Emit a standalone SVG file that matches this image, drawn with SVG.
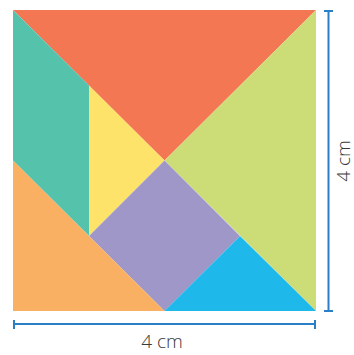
<svg xmlns="http://www.w3.org/2000/svg" width="354" height="355" viewBox="0 0 354 355">
<style>
.dim{stroke:#2b7fc6;stroke-width:2;fill:none}
.lbl{font-family:"Open Sans","Liberation Sans",sans-serif;font-weight:300;font-size:19px;fill:#3a3a3a}
</style>
<rect width="354" height="355" fill="#fff"/>
<g id="big-triangle-top"><polygon points="13,10 316,10 164.5,160.5" fill="#f27752"/></g>
<g id="big-triangle-right"><polygon points="316,10 316,311 164.5,160.5" fill="#ccdd77"/></g>
<g id="parallelogram"><polygon points="13,10 89,85.5 89,236 13,160.5" fill="#55c2ab"/></g>
<g id="small-triangle-yellow"><polygon points="89,85.5 164.5,160.5 89,236" fill="#fee36b"/></g>
<g id="square"><polygon points="164.5,160.5 240,236 164.5,311 89,236" fill="#9e97c8"/></g>
<g id="small-triangle-blue"><polygon points="164.5,311 240,236 316,311" fill="#1fb8ea"/></g>
<g id="medium-triangle"><polygon points="13,160.5 164.5,311 13,311" fill="#f9b063"/></g>
<g id="connectors">
<line class="dim" x1="14" y1="324" x2="315" y2="324"/>
<line class="dim" x1="14" y1="320" x2="14" y2="329"/>
<line class="dim" x1="315" y1="320" x2="315" y2="329"/>
<line class="dim" x1="328.5" y1="11" x2="328.5" y2="311"/>
<line class="dim" x1="324" y1="11" x2="333" y2="11"/>
<line class="dim" x1="324" y1="311" x2="333" y2="311"/>
</g>
<g id="label-bottom"><text class="lbl" x="162" y="348" text-anchor="middle">4 cm</text></g>
<g id="label-right"><text class="lbl" x="0" y="0" text-anchor="middle" transform="translate(349.5,161) rotate(-90)">4 cm</text></g>
</svg>
